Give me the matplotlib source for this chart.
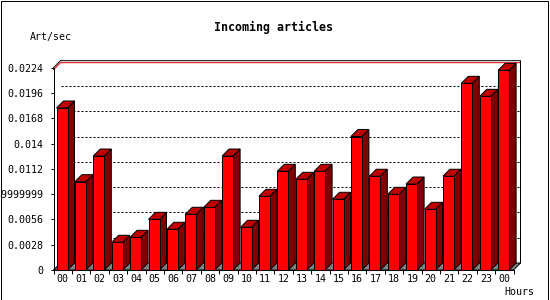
import matplotlib
matplotlib.use("Agg")
import matplotlib.pyplot as plt
from matplotlib.patches import Polygon, Rectangle

# ── Data ────────────────────────────────────────────────────────────────────
hours = ["00", "01", "02", "03", "04", "05", "06", "07", "08", "09", "10", "11",
         "12", "13", "14", "15", "16", "17", "18", "19", "20", "21", "22", "23", "00"]
rates = [0.01794, 0.00978, 0.01262, 0.00307, 0.00362, 0.00561, 0.00451, 0.00617,
         0.00694, 0.01262, 0.00473, 0.00816, 0.01093, 0.01004, 0.01093, 0.00783,
         0.01478, 0.01038, 0.00838, 0.00952, 0.00672, 0.01038, 0.02067, 0.01923,
         0.02211]
ytick_vals = [0, 0.0028, 0.0056, 0.0084, 0.0112, 0.014, 0.0168, 0.0196, 0.0224]
ytick_labels = ["0", "0.0028", "0.0056", "0.00839999999", "0.0112", "0.014",
                "0.0168", "0.0196", "0.0224"]

# ── Layout (pixels) ─────────────────────────────────────────────────────────
W, H = 550, 300
LEFT, RIGHT, BOTTOM, TOP = 53.5, 513.5, 270, 67.7
DEPTH = 7           # 3d offset in px
PX = 1 / 1.389      # one pixel in points
FONT = "DejaVu Sans Mono"

FRONT = "#ff0000"
SIDE = "#7f0000"
TOPC = "#c00000"
FLOOR = "#808080"

fig = plt.figure(figsize=(W / 100, H / 100), dpi=100)
fig.patch.set_facecolor("white")
ax = fig.add_axes([LEFT / W, 1 - BOTTOM / H, (RIGHT - LEFT) / W, (BOTTOM - TOP) / H])
n = len(hours)
ymax = ytick_vals[-1]
ax.set_xlim(0, n)
ax.set_ylim(0, ymax)
ax.set_facecolor("none")

ux = n / (RIGHT - LEFT)          # data units per pixel
uy = ymax / (BOTTOM - TOP)
dx, dy = DEPTH * ux, DEPTH * uy

# back wall top / right edge, red line
ax.plot([0, dx, n + dx, n + dx], [ymax, ymax + dy, ymax + dy, dy],
        color="black", lw=PX, clip_on=False, zorder=1)
ax.plot([0, dx, n + dx - ux], [ymax - 2 * uy, ymax + dy - 2 * uy, ymax + dy - 2 * uy],
        color="#e00000", lw=PX, clip_on=False, zorder=1)

# dotted gridlines on back wall
for v in ytick_vals[1:-1]:
    ax.plot([dx, n + dx], [v + dy, v + dy], color="black", lw=PX,
            linestyle=(0, (2, 2)), clip_on=False, zorder=1)

# floor
ax.add_patch(Polygon([(0, 0), (n, 0), (n + dx, dy), (dx, dy)], closed=True,
                     facecolor=FLOOR, edgecolor="black", lw=PX, clip_on=False, zorder=2))

# bars
off = 3 * ux
bw = 11 * ux
for i, v in enumerate(rates):
    x0 = i + off
    x1 = x0 + bw
    ax.add_patch(Polygon([(x1, 0), (x1 + dx, dy), (x1 + dx, v + dy), (x1, v)],
                         closed=True, facecolor=SIDE, edgecolor="black", lw=PX,
                         clip_on=False, zorder=3))
    ax.add_patch(Polygon([(x0, v), (x1, v), (x1 + dx, v + dy), (x0 + dx, v + dy)],
                         closed=True, facecolor=TOPC, edgecolor="black", lw=PX,
                         clip_on=False, zorder=3))
ax.bar([i + off for i in range(n)], rates, width=bw, align="edge", color=FRONT,
       edgecolor="black", linewidth=PX, zorder=4, clip_on=False)

# axes
for s in ["top", "right"]:
    ax.spines[s].set_visible(False)
for s in ["left", "bottom"]:
    ax.spines[s].set_linewidth(PX)
    ax.spines[s].set_zorder(5)

ax.set_yticks(ytick_vals, ytick_labels)
ax.set_xticks(range(n + 1), [""] * (n + 1))
ax.set_xticks([i + 0.5 for i in range(n)], hours, minor=True)
ax.tick_params(axis="y", length=3.5 * PX, width=PX, pad=6.5 * PX, labelsize=7.2)
ax.tick_params(axis="x", which="major", length=4 * PX, width=PX)
ax.tick_params(axis="x", which="minor", length=0, pad=4 * PX, labelsize=7.2)
for lab in ax.get_yticklabels() + ax.get_xticklabels(minor=True):
    lab.set_fontfamily(FONT)

# texts
fig.text(274 / W, 1 - 27 / H, "Incoming articles", ha="center", va="center",
         fontsize=8.4, fontweight="bold", family=FONT)
fig.text(30 / W, 1 - 37 / H, "Art/sec", ha="left", va="center",
         fontsize=7.2, family=FONT)
fig.text(504 / W, 1 - 292 / H, "Hours", ha="left", va="center",
         fontsize=7.2, family=FONT)

# outer frame
fig.patches.append(Rectangle((0.5 / W, 0.5 / H), 547 / W, 298.5 / H, fill=False,
                             edgecolor="black", lw=PX, transform=fig.transFigure))

fig.savefig("out.png", dpi=100)
